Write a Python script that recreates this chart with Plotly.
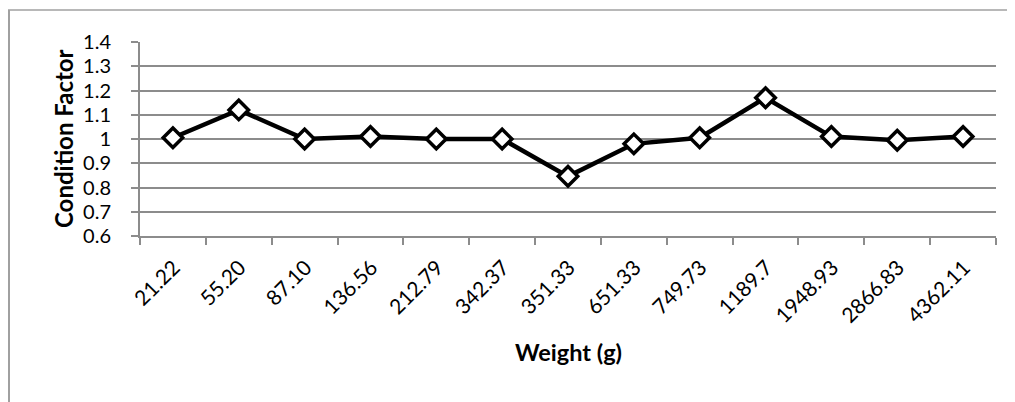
import plotly.graph_objects as go

weights = ["21.22", "55.20", "87.10", "136.56", "212.79", "342.37", "351.33",
           "651.33", "749.73", "1189.7", "1948.93", "2866.83", "4362.11"]
condition_factor = [1.005, 1.12, 1.0, 1.01, 1.0, 1.0, 0.846,
                    0.98, 1.005, 1.17, 1.01, 0.995, 1.01]
y_ticks = [0.6, 0.7, 0.8, 0.9, 1, 1.1, 1.2, 1.3, 1.4]
y_tick_labels = ["0.6", "0.7", "0.8", "0.9", "1", "1.1", "1.2", "1.3", "1.4"]

FONT = "Lato"
GRID = "#8c8c8c"

# page body adds an 8px offset; plot area target in window px: x 140..996, y 42..236
OFF = 8
L, R, T, B = 140 - OFF, 996 - OFF, 42 - OFF, 236 - OFF
W, H = 1015, 402
PW, PH = R - L, B - T


def px(x):
    return (x - OFF - L) / PW


def py(y):
    return (B - (y - OFF)) / PH


fig = go.Figure()
fig.add_trace(go.Scatter(
    x=weights, y=condition_factor, mode="lines+markers",
    line=dict(color="black", width=4.5),
    marker=dict(symbol="diamond", size=15, color="white",
                line=dict(color="black", width=3.5)),
    showlegend=False, cliponaxis=False,
))

fig.update_layout(
    width=W, height=H,
    margin=dict(l=L, r=W - R, t=T, b=H - B),
    paper_bgcolor="white", plot_bgcolor="white",
    font=dict(family=FONT, color="black"),
    xaxis=dict(
        type="category", range=[-0.5, 12.5],
        showgrid=False, showline=True, linecolor=GRID, linewidth=2,
        ticks="outside", ticklen=7, tickcolor=GRID, tickwidth=2,
        tickson="boundaries",
        tickangle=-45, tickfont=dict(size=21, family=FONT),
        ticklabelstandoff=9, ticklabelshift=1,
        fixedrange=True,
    ),
    yaxis=dict(
        range=[0.6, 1.4], tickvals=y_ticks, ticktext=y_tick_labels,
        showgrid=True, gridcolor=GRID, gridwidth=2,
        showline=True, linecolor=GRID, linewidth=2,
        ticks="outside", ticklen=7, tickcolor=GRID, tickwidth=2,
        tickfont=dict(size=20, family=FONT),
        ticklabelstandoff=16,
        zeroline=False, fixedrange=True,
    ),
    annotations=[
        dict(text="<b>Condition Factor</b>", xref="paper", yref="paper",
             x=px(63), y=py(139), textangle=-90,
             showarrow=False, xanchor="center", yanchor="middle",
             font=dict(size=24, family=FONT)),
        dict(text="<b>Weight (g)</b>", xref="paper", yref="paper",
             x=px(568), y=py(352),
             showarrow=False, xanchor="center", yanchor="middle",
             font=dict(size=23.5, family=FONT)),
    ],
    shapes=[
        dict(type="line", xref="paper", yref="paper",
             x0=px(8), x1=px(1015),
             y0=py(10), y1=py(10),
             line=dict(color="#b8b8b8", width=2)),
        dict(type="line", xref="paper", yref="paper",
             x0=px(9), x1=px(9),
             y0=py(10), y1=py(402),
             line=dict(color="#a0a0a0", width=2)),
    ],
)

fig.write_html("out.html")
